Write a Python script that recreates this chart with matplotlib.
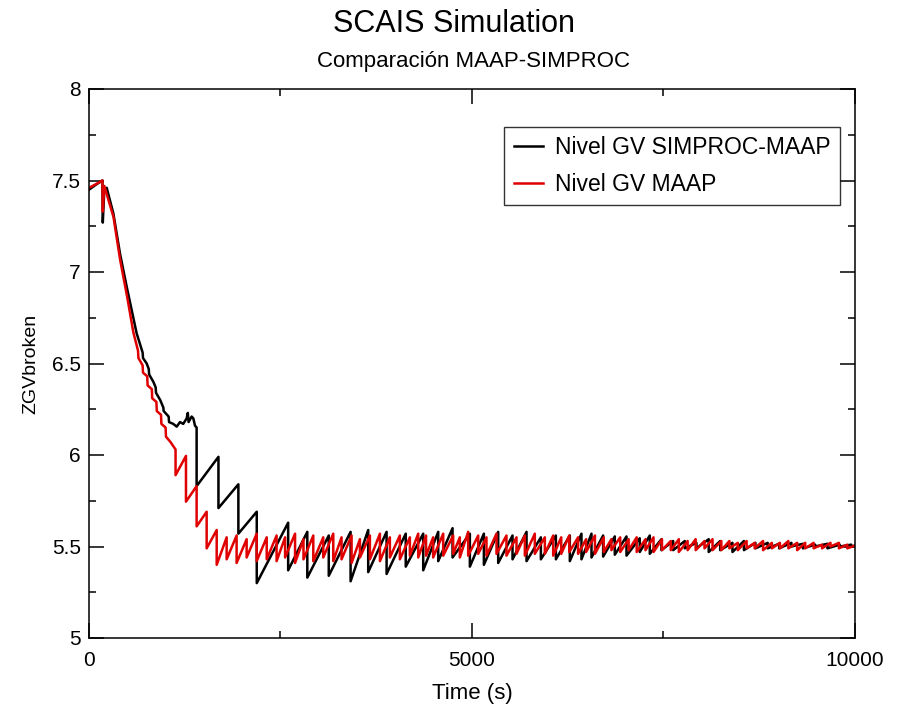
import matplotlib
matplotlib.use("Agg")
import matplotlib.pyplot as plt
from matplotlib.ticker import MultipleLocator, FormatStrFormatter

plt.rcParams['font.family'] = ['Liberation Sans', 'DejaVu Sans']

# --- data (time in s, level) ---
# smooth start of each curve, before the big saw teeth
black_early_t = [0, 100, 175, 180, 200, 231, 318, 405, 492, 622, 700, 705, 753, 780, 785,
                 840, 870, 875, 930, 970, 975, 1040, 1045, 1100, 1145, 1188, 1230, 1275,
                 1290, 1300, 1340, 1362, 1384]
black_early_y = [7.45, 7.48, 7.50, 7.27, 7.45, 7.46, 7.32, 7.10, 6.92, 6.665, 6.56, 6.53, 6.50,
                 6.47, 6.44, 6.40, 6.37, 6.34, 6.30, 6.26, 6.24, 6.21, 6.18, 6.17, 6.155, 6.18,
                 6.17, 6.20, 6.23, 6.18, 6.21, 6.20, 6.16]

red_early_t = [0, 90, 175, 180, 200, 320, 405, 500, 579, 640, 645, 700, 705, 760, 765, 820,
               825, 880, 885, 940, 945, 1000, 1005, 1065]
red_early_y = [7.46, 7.48, 7.50, 7.33, 7.47, 7.30, 7.07, 6.86, 6.67, 6.57, 6.53, 6.49, 6.45,
               6.43, 6.38, 6.36, 6.31, 6.29, 6.24, 6.22, 6.17, 6.15, 6.10, 6.07]

# saw teeth: time of the drop, value just before it, value just after it
black_drop_t = [1405, 1690, 1950, 2190, 2600, 2850, 3130, 3415, 3645, 3885, 4135,
                4363, 4559, 4746, 4972, 5155, 5342, 5529, 5712, 5899, 6095,
                6277, 6429, 6560, 6712, 6864, 7017, 7190, 7321, 7473, 7626, 7778, 7930,
                8090, 8240, 8400, 8550, 8700, 8860, 9010, 9170, 9320, 9480, 9640, 9800, 9950]
black_hi = [6.15, 5.99, 5.84, 5.69, 5.63, 5.58, 5.56, 5.58, 5.59, 5.58, 5.57,
            5.57, 5.58, 5.60, 5.57, 5.57, 5.58, 5.56, 5.58, 5.55, 5.56,
            5.56, 5.57, 5.57, 5.56, 5.555, 5.555, 5.545, 5.56, 5.54, 5.53, 5.53, 5.52,
            5.54, 5.53, 5.52, 5.53, 5.52, 5.52, 5.515, 5.52, 5.515, 5.51, 5.515, 5.51, 5.51]
black_lo = [5.83, 5.71, 5.57, 5.30, 5.37, 5.33, 5.34, 5.31, 5.36, 5.35, 5.39,
            5.37, 5.42, 5.44, 5.39, 5.40, 5.41, 5.43, 5.42, 5.43, 5.43,
            5.42, 5.43, 5.44, 5.445, 5.455, 5.45, 5.47, 5.46, 5.48, 5.48, 5.49, 5.49,
            5.47, 5.48, 5.47, 5.48, 5.49, 5.49, 5.49, 5.50, 5.49, 5.50, 5.49, 5.50, 5.50]

red_drop_t = [1130, 1266, 1405, 1536, 1667,
              1797, 1927, 2058, 2189, 2320, 2449, 2560, 2690, 2800, 2928,
              3058, 3189, 3297, 3428, 3537, 3667, 3798, 3928, 4058, 4189,
              4298, 4400, 4493, 4624, 4754, 4841, 4950, 5081, 5189, 5320,
              5450, 5581, 5690, 5820, 5951, 6060,
              6165, 6270, 6385, 6490, 6605, 6720, 6820, 6935, 7045, 7150,
              7265, 7370, 7480, 7595, 7700, 7815, 7920, 8035, 8140, 8255,
              8360, 8470, 8585, 8690, 8800, 8915, 9020, 9130, 9245, 9350,
              9460, 9570, 9680, 9790, 9900]
red_hi = [6.03, 5.995, 5.83, 5.69, 5.59,
          5.55, 5.56, 5.54, 5.57, 5.55, 5.56, 5.55, 5.57, 5.54, 5.56,
          5.55, 5.57, 5.55, 5.56, 5.54, 5.56, 5.57, 5.55, 5.56, 5.55,
          5.57, 5.56, 5.55, 5.57, 5.56, 5.55, 5.58, 5.56, 5.55, 5.57,
          5.56, 5.55, 5.56, 5.57, 5.55, 5.56,
          5.55, 5.56, 5.55, 5.54, 5.56, 5.55, 5.54, 5.55, 5.54, 5.55,
          5.54, 5.55, 5.54, 5.53, 5.54, 5.53, 5.54, 5.53, 5.54, 5.53,
          5.53, 5.52, 5.53, 5.52, 5.53, 5.52, 5.52, 5.53, 5.52, 5.52,
          5.52, 5.51, 5.52, 5.52, 5.51]
red_lo = [5.89, 5.745, 5.61, 5.49, 5.40,
          5.43, 5.41, 5.44, 5.42, 5.43, 5.42, 5.44, 5.41, 5.43, 5.42,
          5.44, 5.42, 5.43, 5.41, 5.44, 5.43, 5.42, 5.44, 5.43, 5.45,
          5.44, 5.45, 5.44, 5.45, 5.46, 5.44, 5.45, 5.46, 5.45, 5.46,
          5.45, 5.46, 5.45, 5.46, 5.46, 5.45,
          5.46, 5.47, 5.46, 5.47, 5.46, 5.47, 5.48, 5.47, 5.48, 5.47,
          5.48, 5.47, 5.48, 5.48, 5.47, 5.48, 5.48, 5.49, 5.48, 5.48,
          5.49, 5.48, 5.49, 5.49, 5.48, 5.49, 5.49, 5.49, 5.48, 5.49,
          5.49, 5.49, 5.50, 5.49, 5.49]

end_t = 10000
end_y = 5.505


def build_curve(early_t, early_y, drop_t, hi, lo):
    # join the smooth start and the teeth (vertical drops) into one polyline
    t = list(early_t)
    y = list(early_y)
    for tk, h, l in zip(drop_t, hi, lo):
        t += [tk, tk]
        y += [h, l]
    t.append(end_t)
    y.append(end_y)
    return t, y


black_t, black_y = build_curve(black_early_t, black_early_y, black_drop_t, black_hi, black_lo)
red_t, red_y = build_curve(red_early_t, red_early_y, red_drop_t, red_hi, red_lo)

fig = plt.figure(figsize=(9.04, 7.10), dpi=100)
ax = fig.add_axes([89 / 904, 1 - 638 / 710, 766 / 904, 549 / 710])

ax.plot(black_t, black_y, color='black', lw=1.8, label='Nivel GV SIMPROC-MAAP')
ax.plot(red_t, red_y, color='#e00000', lw=1.8, label='Nivel GV MAAP')

ax.set_xlim(0, 10000)
ax.set_ylim(5, 8)
ax.xaxis.set_major_locator(MultipleLocator(5000))
ax.xaxis.set_minor_locator(MultipleLocator(2500))
ax.yaxis.set_major_locator(MultipleLocator(0.5))
ax.yaxis.set_minor_locator(MultipleLocator(0.25))
ax.yaxis.set_major_formatter(FormatStrFormatter('%g'))

ax.tick_params(which='both', direction='in', top=True, right=True, width=1.1)
ax.tick_params(which='major', length=11)
ax.tick_params(which='minor', length=5)
ax.tick_params(axis='x', labelsize=15, pad=9)
ax.tick_params(axis='y', labelsize=15, pad=6)
for sp in ax.spines.values():
    sp.set_linewidth(1.1)

ax.set_xlabel('Time (s)', fontsize=16, labelpad=10)
ax.set_ylabel('ZGVbroken', fontsize=14, labelpad=9)

fig.text(454 / 904, 1 - 24 / 710, 'SCAIS Simulation', ha='center', va='center', fontsize=22)
fig.text(474 / 904, 1 - 61 / 710, 'Comparación MAAP-SIMPROC', ha='center', va='center',
         fontsize=16)

leg = ax.legend(loc='upper right', bbox_to_anchor=(0.98, 0.931), fontsize=16.5,
                frameon=True, fancybox=False, handlelength=1.3, handletextpad=0.5,
                borderpad=0.4, labelspacing=0.6, borderaxespad=0)
leg.get_frame().set_edgecolor('black')
leg.get_frame().set_linewidth(1.0)

fig.savefig('out.png', dpi=100)
